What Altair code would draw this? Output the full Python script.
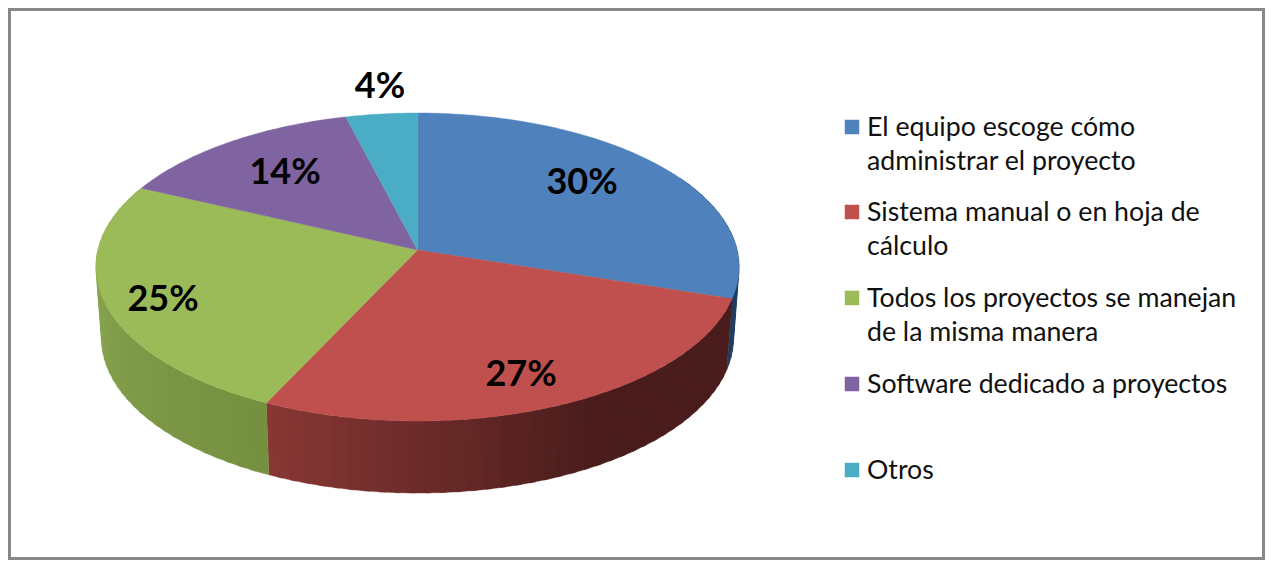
import math
import altair as alt

# ---- data ----
categories = ["El equipo escoge cómo administrar el proyecto",
              "Sistema manual o en hoja de cálculo",
              "Todos los proyectos se manejan de la misma manera",
              "Software dedicado a proyectos",
              "Otros"]
shares = [30, 27, 25, 14, 4]
percent_labels = ["30%", "27%", "25%", "14%", "4%"]
legend_lines = [["El equipo escoge cómo", "administrar el proyecto"],
                ["Sistema manual o en hoja de", "cálculo"],
                ["Todos los proyectos se manejan", "de la misma manera"],
                ["Software dedicado a proyectos"],
                ["Otros"]]
colors = ["#4F81BD", "#C0504D", "#9BBB59", "#8064A2", "#4BACC6"]

# ---- layout and style ----
PAGE = 8
W, H = 1257, 552
CX, CY = 417.5, 267
RX, RY = 321.5, 154
APEX_Y = 250
BOT_CY, BOT_RX, BOT_RY = 338, 316, 155
LABEL_XY = [(582, 182.5), (521, 374.5), (163, 299.5), (285, 172.5), (380, 86.5)]
LEGEND_Y = [127, 212, 298, 384, 470]
TEXT_DY = 1
LINE_GAP = 34
SW_X, TXT_X = 852, 867
FONT = "Lato"

C = APEX_Y - CY
B = RY
b = C / RY
A = RX * math.sqrt(1 - (C / RY) ** 2)


def rim(deg):
    t = math.radians(deg)
    u, v = math.sin(t), -math.cos(t)
    w = 1 + b * v
    return A * u / w, (B * v + C) / w


def top_pt(deg):
    x, y = rim(deg)
    return [CX + x, CY + y]


def bot_pt(deg):
    x, y = rim(deg)
    return [CX + x * BOT_RX / RX, BOT_CY + y * BOT_RY / RY]


def mix(stops, d):
    if d <= stops[0][0]:
        return stops[0][1]
    for (d0, c0), (d1, c1) in zip(stops, stops[1:]):
        if d <= d1:
            f = (d - d0) / (d1 - d0)
            rgb = [round(int(c0[i:i + 2], 16) * (1 - f) + int(c1[i:i + 2], 16) * f) for i in (1, 3, 5)]
            return "#%02x%02x%02x" % tuple(rgb)
    return stops[-1][1]


WALL_STOPS = [
    [(60, "#1F3F62"), (108, "#1F3F62")],
    [(108, "#4A1D1C"), (150, "#4A1D1C"), (180, "#6E2C2A"), (205.2, "#8A3835")],
    [(205.2, "#75913F"), (240, "#7F9B49"), (265, "#8AA650"), (295.2, "#8CA852")],
]

# cumulative angles
edges = [0]
for s in shares:
    edges.append(edges[-1] + s * 3.6)


def feature(ring, fill):
    return {"type": "Feature",
            "geometry": {"type": "Polygon", "coordinates": [ring + [ring[0]]]},
            "properties": {"fill": fill}}


features = []
# side wall: narrow bands drawn last-to-first so each overlaps its neighbour and hides seams
STEP = 2.5
for i, stops in enumerate(WALL_STOPS):
    d0 = edges[i] if i else 60
    d1 = edges[i + 1]
    n = max(1, round((d1 - d0) / STEP))
    for k in range(n):
        a0 = d0 + (d1 - d0) * k / n
        a1 = d0 + (d1 - d0) * (k + 1) / n
        a1_over = min(a1 + 1.0, d1)
        ring = [top_pt(a0)]
        ring += [top_pt(a0 + (a1_over - a0) * q / 3) for q in (1, 2, 3)]
        ring += [bot_pt(a0 + (a1_over - a0) * q / 3) for q in (3, 2, 1, 0)]
        features.append(feature(ring, mix(stops, (a0 + a1) / 2)))
    features_slice = features[-n:]
    features[-n:] = features_slice[::-1]
# top face
for i, col in enumerate(colors):
    d0, d1 = edges[i], edges[i + 1]
    n = max(2, round(d1 - d0))
    ring = [[CX, APEX_Y]] + [top_pt(d0 + (d1 - d0) * k / n) for k in range(n + 1)]
    features.append(feature(ring, col))

pie = (alt.Chart(alt.Data(values=features))
       .mark_geoshape(strokeWidth=0.4)
       .encode(fill=alt.Fill("properties.fill:N", scale=None),
               stroke=alt.Stroke("properties.fill:N", scale=None))
       .project(type="identity", scale=1, translate=[-PAGE, -PAGE]))

label_rows = [{"t": t, "x": x - PAGE, "y": y - PAGE}
              for t, (x, y) in zip(percent_labels, LABEL_XY)]
labels = (alt.Chart(alt.Data(values=label_rows))
          .mark_text(font=FONT, fontWeight="bold", fontSize=36, color="#000000",
                     align="center", baseline="middle")
          .encode(x=alt.X("x:Q", scale=None), y=alt.Y("y:Q", scale=None), text="t:N"))

sw_rows = [{"x": SW_X - PAGE, "y": y - PAGE, "c": c, "name": n}
           for y, c, n in zip(LEGEND_Y, colors, categories)]
swatches = (alt.Chart(alt.Data(values=sw_rows))
            .mark_square(size=210, opacity=1, filled=True)
            .encode(x=alt.X("x:Q", scale=None), y=alt.Y("y:Q", scale=None),
                    fill=alt.Fill("c:N", scale=None)))

line_rows = []
for y, lines in zip(LEGEND_Y, legend_lines):
    for j, s in enumerate(lines):
        line_rows.append({"t": s, "x": TXT_X - PAGE, "y": y + TEXT_DY + j * LINE_GAP - PAGE})
legend_text = (alt.Chart(alt.Data(values=line_rows))
               .mark_text(font=FONT, fontSize=26.7, color="#111111", align="left", baseline="middle")
               .encode(x=alt.X("x:Q", scale=None), y=alt.Y("y:Q", scale=None), text="t:N"))

frame = (alt.Chart(alt.Data(values=[{"a": 0}]))
         .mark_rect(fill="#FFFFFF", stroke="#888888", strokeWidth=3)
         .encode(x=alt.value(1.5), x2=alt.value(W - 1.5), y=alt.value(1.5), y2=alt.value(H - 1.5)))

chart = (alt.layer(frame, pie, labels, swatches, legend_text)
         .properties(width=W, height=H, padding=0, background="#FFFFFF",
                     autosize=alt.AutoSizeParams(type="none"))
         .configure_view(stroke=None))
chart.save("out.html", embed_options={"renderer": "svg", "actions": False})
